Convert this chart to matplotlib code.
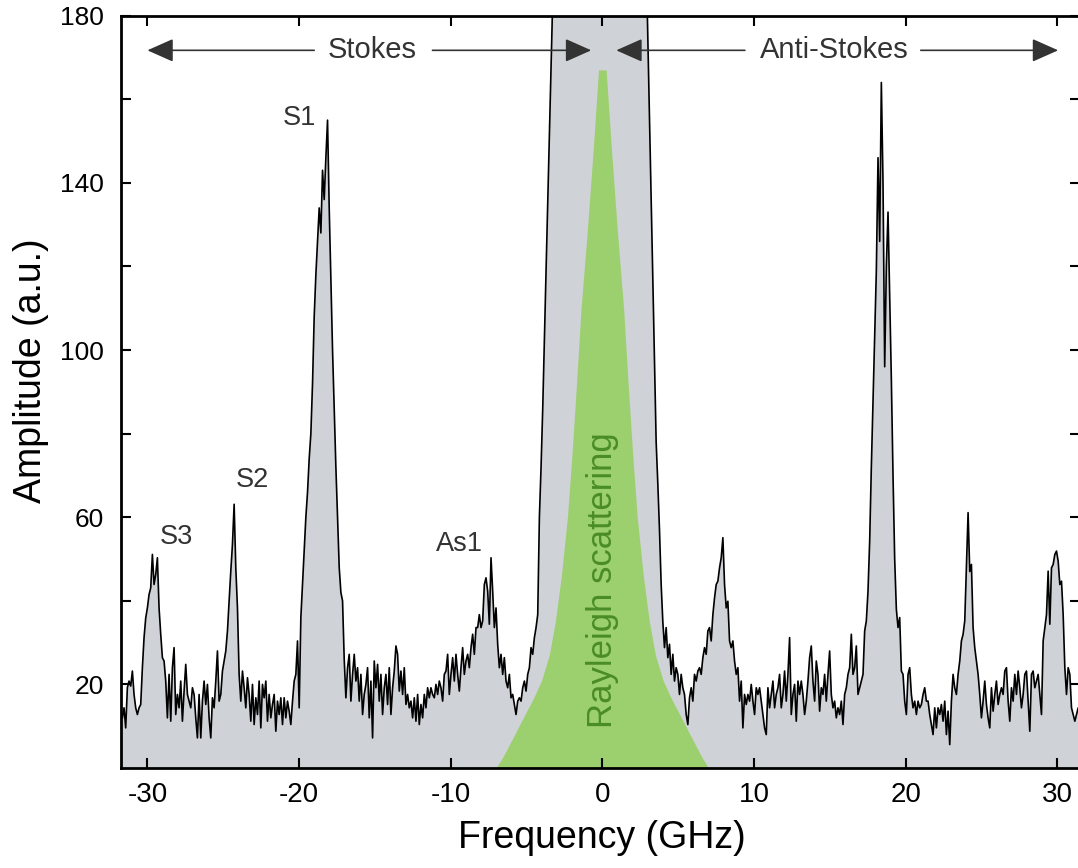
import numpy as np
import matplotlib.pyplot as plt

plt.rcParams['font.family'] = ['Liberation Sans', 'DejaVu Sans']
plt.rcParams['axes.unicode_minus'] = False

# spectrum sampled every 0.11 GHz starting at -31.65 GHz
freq_start = -31.65
freq_step = 0.11

amp_stokes = [
    12.0, 14.4, 9.6, 19.2, 20.8, 19.6, 23.2, 17.6, 14.4, 12.8, 14.4, 15.2, 24.0, 31.2, 35.9, 38.3,
    41.5, 43.1, 51.1, 43.9, 46.3, 50.3, 38.3, 32.0, 26.4, 25.6, 20.8, 12.0, 22.4, 11.2, 24.0, 28.8,
    12.8, 17.6, 14.4, 20.8, 11.2, 18.4, 24.8, 17.6, 16.0, 14.4, 19.2, 17.6, 12.0, 7.2, 17.6, 7.2,
    16.0, 20.8, 15.2, 20.0, 12.0, 7.2, 16.8, 14.4, 20.8, 28.0, 16.0, 17.6, 23.2, 25.6, 28.0, 32.8,
    39.9, 47.1, 53.5, 63.1, 47.9, 38.3, 22.4, 16.0, 23.2, 19.2, 14.4, 21.6, 17.6, 11.2, 20.0, 10.4,
    16.8, 12.8, 20.8, 9.6, 20.0, 16.8, 20.8, 11.2, 17.6, 12.0, 15.2, 17.6, 8.8, 16.0, 12.8, 16.8,
    10.4, 16.8, 12.0, 16.0, 13.6, 10.4, 16.0, 20.8, 22.4,
    30.4, 14.4, 36, 44, 52, 60, 66, 74, 80, 92, 108, 118, 126, 134, 128, 143, 136, 146, 155, 134,
    117, 100, 86, 72, 60, 48, 42, 40, 26,
    16.8, 24.0, 27.2, 16.0, 22.4, 27.2, 20.8, 24.0, 16.0, 22.4, 12.8, 17.6, 20.0, 24.0, 12.0, 20.8,
    7.2, 25.6, 19.2, 24.8, 16.0, 22.4, 12.8, 19.2, 22.4, 15.2, 24.0, 12.8, 19.2, 23.2, 29.2, 27.2,
    18.4, 23.2, 17.6, 24.0, 15.2, 17.6, 14.4, 16.0, 12.0, 16.8, 11.2, 17.6, 10.4, 15.2, 12.0, 17.6,
    14.4, 19.2, 16.8, 19.2, 17.6, 16.8, 20.0, 17.6, 20.8, 19.2,
    16.0, 22.4, 23.2, 27.2, 17.6, 22.4, 26.4, 20.8, 27.2, 22.4, 18.4, 24.0, 28.8, 22.4, 25.6, 27.2,
    24.0, 28.8, 32.0, 27.2, 33.6, 33.6, 36.7, 33.6, 35.2, 43.9, 45.5, 42.3, 34.4, 50.3, 42.3, 33.6,
    38.3, 29.6, 24.0, 27.2, 22.4, 26.4, 20.8, 19.2, 22.4, 16.8, 17.6, 15.2, 12.8, 16.0, 16.8, 16.0,
    19.2, 20.8, 18.4, 22.4, 24.0, 28.8, 27.2, 31.2, 33.6, 36.7,
]

amp_center = [
    60, 72, 86, 103, 119, 135, 152, 168, 184, 201, 217, 233, 250,
    266, 282, 298, 314, 330, 346, 362, 378, 394, 410, 426, 442, 458, 474, 490, 506, 522, 538, 554,
    570, 586, 602, 618, 634, 650,
    650, 630, 610, 590, 570, 550, 530, 510, 490, 470, 450, 430, 410, 390, 370, 350, 330, 310, 290,
    270, 256, 244, 236, 228, 220,
    213, 194, 175, 155, 136, 117, 97, 78, 68, 57, 44, 35,
]

amp_antistokes = [
    28.8, 33.6, 26.4, 29.6, 22.4, 27.2, 20.8, 24.0, 22.4, 17.6, 22.4, 19.2, 17.6, 12.8, 10.4, 16.8,
    19.2, 16.0, 22.4, 20.8, 23.2, 24.0, 22.4, 26.4, 28.8, 27.2, 32.8, 33.6, 30.4, 36.7, 40.7, 43.9,
    44.7, 47.9, 50.3, 55.1, 43.9, 38.3, 39.9, 30.4, 28.8, 30.4, 25.6, 22.4, 24.0, 16.0, 20.8, 9.6,
    17.6, 15.2, 17.6, 16.0,
    20.0, 16.0, 12.8, 19.2, 17.6, 19.2, 16.0, 12.8, 9.6, 8.0, 19.2, 14.4, 17.6, 20.8, 14.4, 17.6,
    19.2, 22.4, 14.4, 17.6, 23.2, 16.0, 22.4, 31.2, 12.8, 17.6, 20.0, 11.2, 20.8, 17.6, 20.8, 17.6,
    12.8, 16.0, 20.8, 26.4, 29.2, 20.8, 16.0, 25.6, 22.4, 13.6, 19.2, 17.6, 22.4, 16.0, 22.4, 28.0,
    17.6, 14.4, 16.0, 12.0, 14.4, 12.8, 16.0, 10.4, 17.6, 19.2, 22.4, 24.0, 32.0, 22.4, 24.0, 29.2,
    17.6, 19.2, 20.8, 22.4, 32.8, 35.2, 42.3, 54.3,
    72, 88, 103, 119, 146, 126, 164, 140, 96, 120, 133, 113, 93, 70, 50, 38,
    33.6, 36.0, 23.2, 22.4, 16.0, 12.8, 22.4, 24.0, 17.6, 14.4, 16.0, 12.8, 16.0, 14.4, 15.2, 17.6,
    19.2, 16.0, 16.0, 12.8, 10.4, 8.0, 14.4, 9.6, 14.4, 12.8, 15.2, 11.2, 16.0, 8.0, 13.6, 5.6,
    16.0, 22.4, 19.2, 17.6, 22.4, 25.6, 30.4, 32.0, 35.2, 47.9,
    61.1, 47.0, 48.7, 33.6, 28.8, 25.6, 22.4, 17.6, 12.0, 16.0, 20.8, 15.2, 12.0, 9.6, 19.2, 13.6,
    17.6, 20.8, 15.2, 17.6, 19.2, 17.6, 23.2, 24.0, 16.0, 11.2, 19.2, 16.0, 22.4, 17.6, 23.2, 19.2,
    14.4, 17.6, 22.4, 23.2, 16.0, 8.8, 22.4, 23.2, 19.2, 20.8, 22.4, 17.6, 12.8, 30.4, 33.6, 36.7,
    47.1, 34.4, 47.9, 48.7, 51.1, 51.9, 49.5, 43.9, 44.7, 36.7, 24.0, 17.6, 24.0, 22.4, 14.4, 12.8,
    11.2, 12.8, 14.4, 12.0,
]

# Rayleigh line (green)
rayleigh_freq = [-7.0, -6.5, -6.0, -5.5, -5.0, -4.5, -4.0, -3.5, -3.1, -2.7, -2.3, -2.0, -1.7,
                 -1.4, -1.0, -0.6, -0.25, 0.25, 0.6, 1.0, 1.4, 1.7, 2.0, 2.3, 2.7, 3.1, 3.5, 4.0,
                 4.5, 5.0, 5.5, 6.0, 6.5, 7.0]
rayleigh_amp = [0, 3, 6.5, 10, 13.5, 17, 21, 27, 35, 46, 60, 75, 92, 110, 128, 148, 167,
                167, 148, 128, 110, 92, 75, 60, 46, 35, 27, 21, 17, 13.5, 10, 6.5, 3, 0]

peak_names = ['S3', 'S2', 'S1', 'As1']
peak_label_x = [-28.1, -23.1, -20.0, -9.4]
peak_label_y = [55.2, 68.8, 155.6, 53.7]

amp = np.array(amp_stokes + amp_center + amp_antistokes)
freq = freq_start + freq_step * np.arange(len(amp))

fig = plt.figure(figsize=(10.78, 8.68), dpi=100)
ax = fig.add_axes([121 / 1078, 0.1152, 959 / 1078, 0.8668])

ax.fill_between(freq, amp, 0, color='#cfd2d6', lw=0)
ax.fill_between(rayleigh_freq, rayleigh_amp, 0, color='#9ccf6e', lw=0)
ax.plot(freq, amp, color='black', lw=1.2)

ax.set_xlim(-31.74, 31.5)
ax.set_ylim(0, 180)
ax.set_xticks([-30, -20, -10, 0, 10, 20, 30])
ax.set_yticks([20, 60, 100, 140, 180])
ax.set_yticks([40, 80, 120, 160], minor=True)
ax.tick_params(which='both', direction='in', top=True, right=True, length=7, width=1.5)
ax.tick_params(axis='x', labelsize=20, pad=10)
ax.tick_params(axis='y', labelsize=19, pad=12)
for s in ax.spines.values():
    s.set_linewidth(2)

fig.text(602 / 1078, 1 - 838 / 868, 'Frequency (GHz)', fontsize=27, ha='center', va='center')
fig.text(31 / 1078, 1 - 371 / 868, 'Amplitude (a.u.)', fontsize=27, rotation=90,
         ha='center', va='center')

# Stokes / Anti-Stokes arrows
arr_y = 171.7
aprops = dict(arrowstyle='-|>,head_length=0.45,head_width=0.2', mutation_scale=36,
              color='#333333', lw=1.2, shrinkA=0, shrinkB=0)
ax.annotate('', xy=(-30.0, arr_y), xytext=(-19.0, arr_y), arrowprops=aprops)
ax.annotate('', xy=(-0.73, arr_y), xytext=(-11.2, arr_y), arrowprops=aprops)
ax.annotate('', xy=(0.92, arr_y), xytext=(9.4, arr_y), arrowprops=aprops)
ax.annotate('', xy=(30.06, arr_y), xytext=(21.0, arr_y), arrowprops=aprops)
ax.text(-15.2, arr_y, 'Stokes', fontsize=21, color='#333333', ha='center', va='center')
ax.text(15.3, arr_y, 'Anti-Stokes', fontsize=21, color='#333333', ha='center', va='center')

for name, lx, ly in zip(peak_names, peak_label_x, peak_label_y):
    ax.text(lx, ly, name, fontsize=19.5, color='#333333', ha='center', va='center')

ax.text(0, 44.9, 'Rayleigh scattering', fontsize=25, color='#4a8c28', rotation=90,
        ha='center', va='center')

fig.savefig('out.png', dpi=100)
